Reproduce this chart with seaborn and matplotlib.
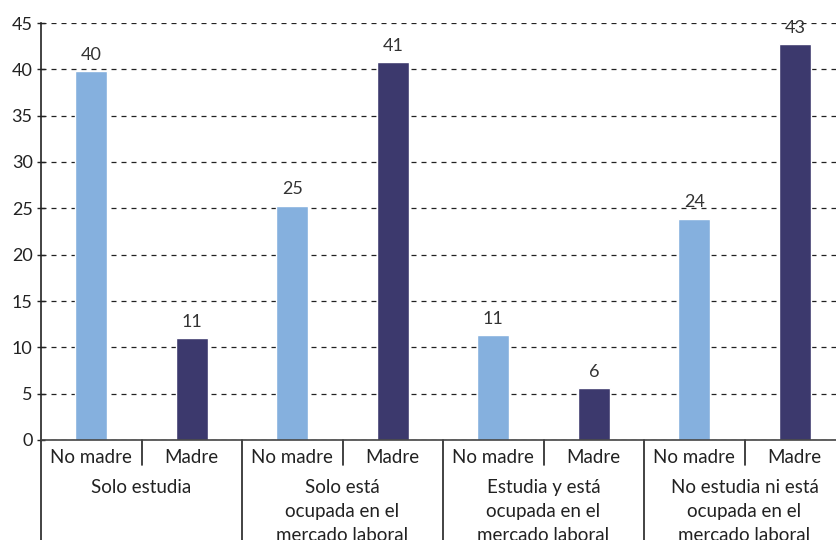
import matplotlib
matplotlib.use("Agg")
import matplotlib.pyplot as plt
import matplotlib.transforms as mtransforms
import seaborn as sns
import pandas as pd

groups = ["Solo estudia",
          "Solo está\nocupada en el\nmercado laboral",
          "Estudia y está\nocupada en el\nmercado laboral",
          "No estudia ni está\nocupada en el\nmercado laboral"]
subgroups = ["No madre", "Madre"]
values = [39.8, 11.0, 25.3, 40.8, 11.3, 5.6, 23.9, 42.7]
bar_labels = ["40", "11", "25", "41", "11", "6", "24", "43"]
yticks = [0, 5, 10, 15, 20, 25, 30, 35, 40, 45]

colors = {"No madre": "#85B0DE", "Madre": "#3C396D"}

slots = [f"{g}|{s}" for g in range(len(groups)) for s in subgroups]
df = pd.DataFrame({
    "slot": slots,
    "tipo": [s for g in groups for s in subgroups],
    "valor": values,
})

sns.set_theme(style="white")
plt.rcParams["font.family"] = ["Lato", "DejaVu Sans"]

fig = plt.figure(figsize=(8.36, 5.40), dpi=100)
ax = fig.add_axes([41 / 836, 100 / 540, 804 / 836, 417 / 540])

sns.barplot(data=df, x="slot", y="valor", hue="tipo", order=slots,
            hue_order=subgroups, palette=colors, dodge=False, width=0.32,
            legend=False, ax=ax, saturation=1)

for cont in ax.containers:
    labs = []
    for bar in cont:
        idx = int(round(bar.get_x() + bar.get_width() / 2))
        labs.append(bar_labels[idx])
    ax.bar_label(cont, labels=labs, padding=6, fontsize=13, color="#333333")

ax.set_xlim(-0.5, 7.5)
ax.set_ylim(0, 45)
ax.set_yticks(yticks)
ax.set_yticklabels([str(t) for t in yticks], fontsize=13, color="#222222")
ax.set_xticks([])
ax.set_xlabel("")
ax.set_ylabel("")
ax.yaxis.grid(True, linestyle=(0, (4, 4)), color="#222222", linewidth=0.9)
ax.set_axisbelow(True)
ax.tick_params(axis="y", direction="inout", length=6, width=1, color="#222222", pad=3, left=True)

for side in ["top", "right"]:
    ax.spines[side].set_visible(False)
ax.spines["left"].set_color("#222222")
ax.spines["left"].set_linewidth(1.2)
ax.spines["bottom"].set_color("#444444")
ax.spines["bottom"].set_linewidth(1.2)

trans = mtransforms.blended_transform_factory(ax.transData, ax.transAxes)
for i, s in enumerate(slots):
    ax.text(i, -0.043, s.split("|")[1], transform=trans, ha="center", va="center",
            fontsize=13.5, color="#222222")
for g in range(len(groups)):
    ax.text(2 * g + 0.5, -0.094, groups[g], transform=trans, ha="center", va="top",
            fontsize=13.5, color="#222222", linespacing=1.5)
    ax.plot([2 * g - 0.5, 2 * g - 0.5], [0, -0.3], transform=trans, color="#222222",
            linewidth=1.2, clip_on=False)
    ax.plot([2 * g + 0.5, 2 * g + 0.5], [0, -0.06], transform=trans, color="#222222",
            linewidth=1.2, clip_on=False)

fig.savefig("out.png", dpi=100)
